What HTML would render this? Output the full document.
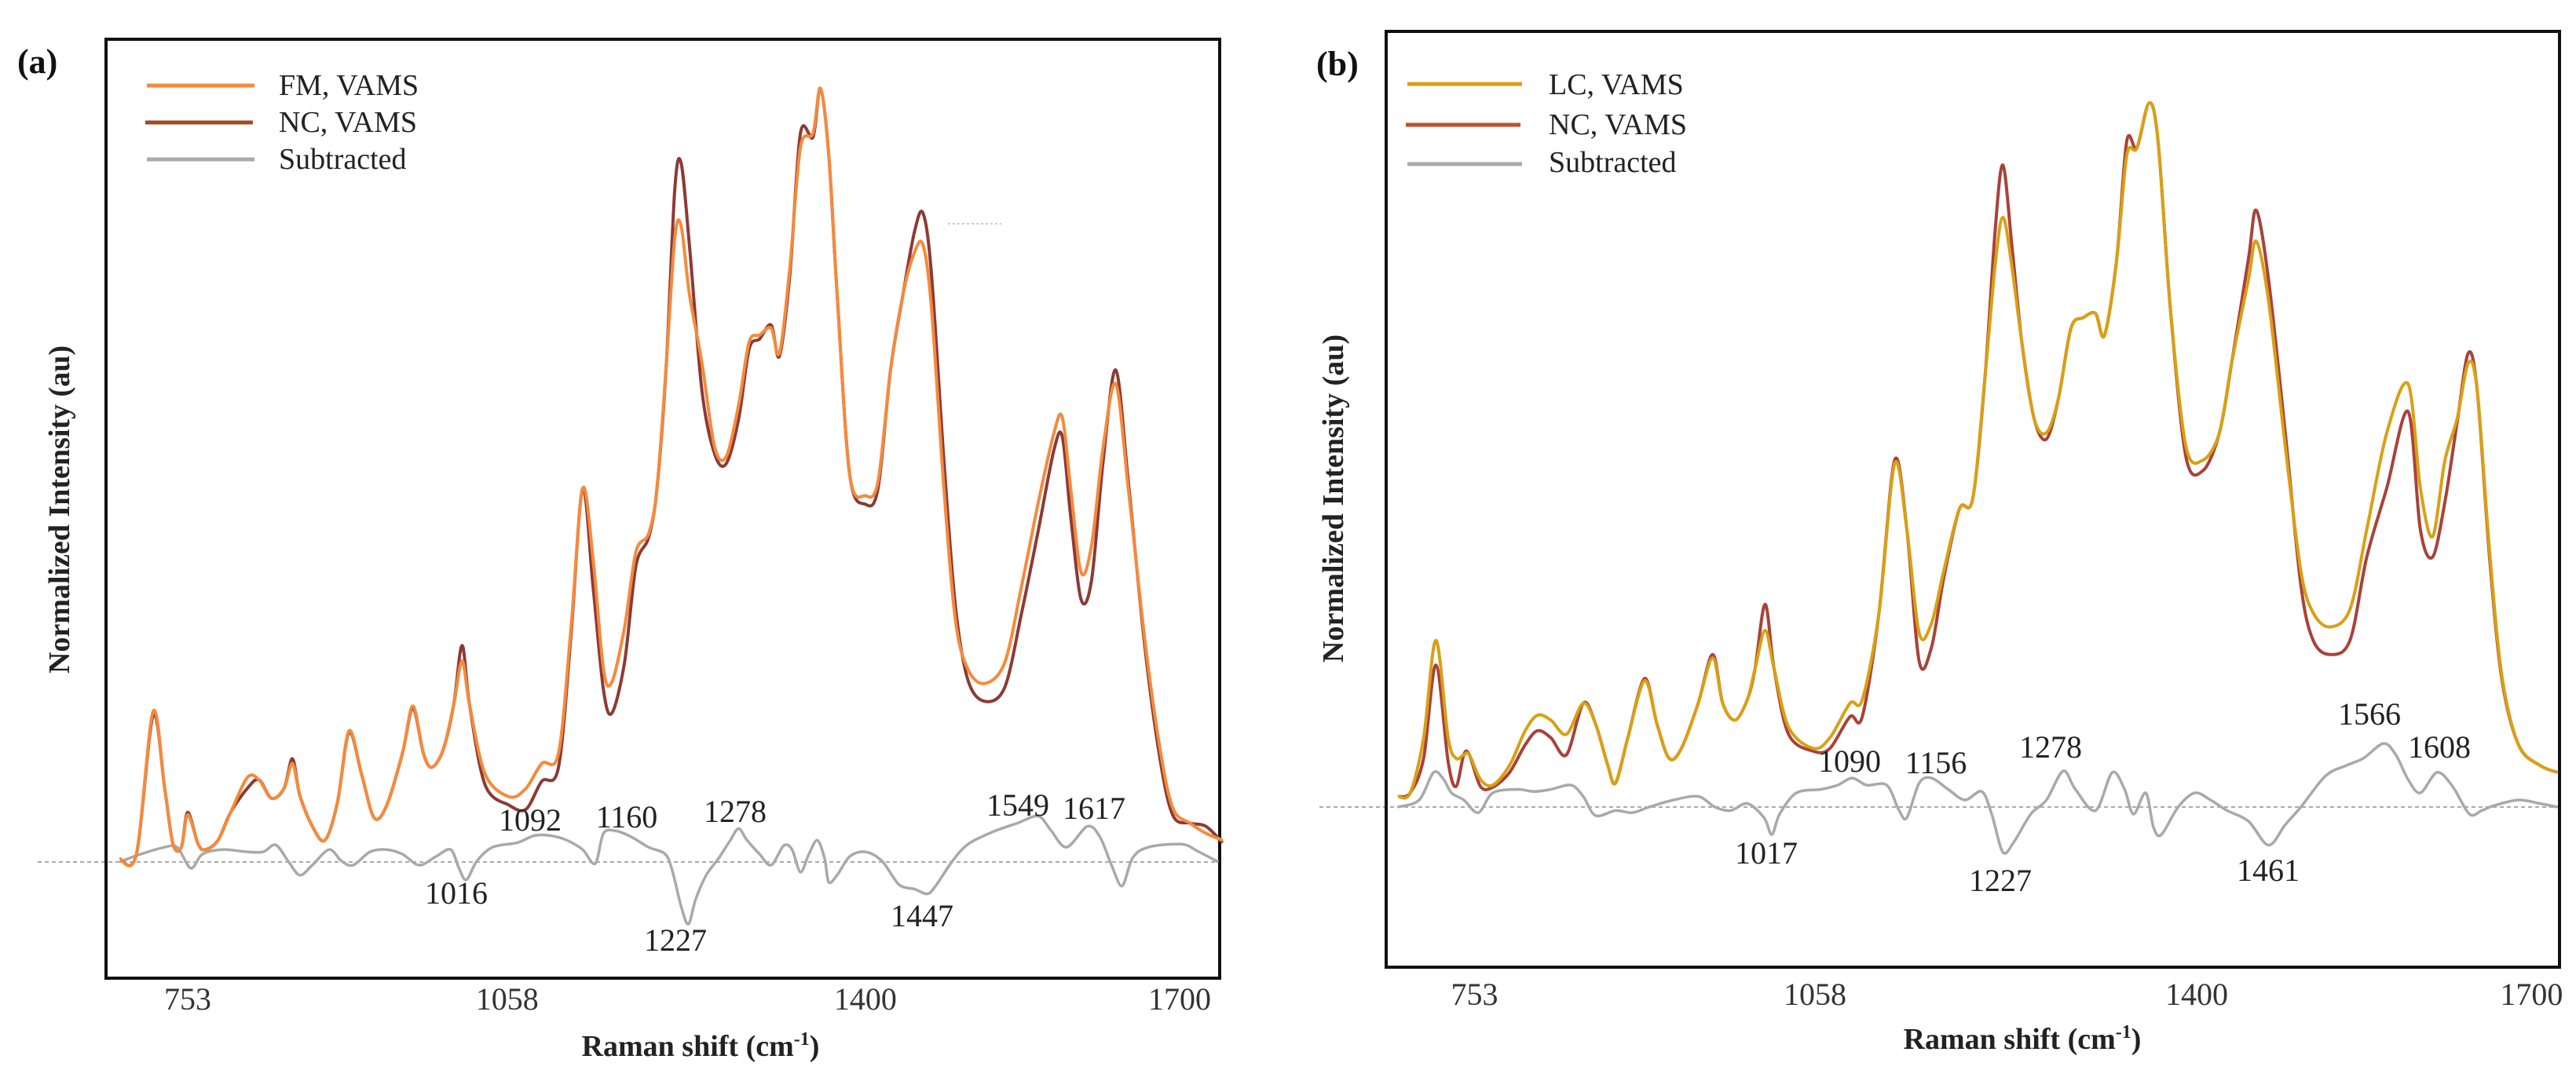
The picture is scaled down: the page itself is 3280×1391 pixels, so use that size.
<!DOCTYPE html>
<html><head><meta charset="utf-8"><style>
html,body{margin:0;padding:0;background:#fff;}
svg{display:block;font-family:"Liberation Serif",serif;}
</style></head><body>
<svg id="fig" width="3280" height="1391" viewBox="0 0 3280 1391" xmlns="http://www.w3.org/2000/svg">
<g id="pa">
 <text x="22" y="93" font-size="44" font-weight="bold" fill="#111">(a)</text>
 <line x1="48" y1="1098" x2="1553" y2="1098" stroke="#aaa" stroke-width="2" stroke-dasharray="5,4"/>
 <line x1="1207" y1="285" x2="1275" y2="285" stroke="#ccc" stroke-width="2" stroke-dasharray="3,3"/>
 <rect x="135" y="50" width="1418" height="1196" fill="none" stroke="#111" stroke-width="4"/>
 <line x1="187" y1="109" x2="324" y2="109" stroke="#f58a3c" stroke-width="5"/>
 <text x="355" y="121" font-size="38" fill="#222">FM, VAMS</text>
 <line x1="185" y1="156" x2="322" y2="156" stroke="#a5481f" stroke-width="5"/>
 <text x="355" y="168" font-size="38" fill="#222">NC, VAMS</text>
 <line x1="187" y1="203" x2="324" y2="203" stroke="#aaa" stroke-width="5"/>
 <text x="355" y="215" font-size="38" fill="#222">Subtracted</text>
 <text transform="translate(88,649) rotate(-90)" text-anchor="middle" font-size="38" font-weight="bold" fill="#222">Normalized Intensity (au)</text>
 <text x="892" y="1345" text-anchor="middle" font-size="38" font-weight="bold" fill="#222">Raman shift (cm<tspan font-size="24" dy="-14">-1</tspan><tspan dy="14">)</tspan></text>
</g>
<g id="pb">
 <text x="1676" y="96" font-size="44" font-weight="bold" fill="#111">(b)</text>
 <line x1="1680" y1="1028" x2="3259" y2="1028" stroke="#aaa" stroke-width="2" stroke-dasharray="5,4"/>
 <rect x="1765" y="40" width="1494" height="1192" fill="none" stroke="#111" stroke-width="4"/>
 <line x1="1792" y1="107" x2="1938" y2="107" stroke="#d9a014" stroke-width="5"/>
 <text x="1972" y="120" font-size="38" fill="#222">LC, VAMS</text>
 <line x1="1790" y1="159" x2="1936" y2="159" stroke="#c0502e" stroke-width="5"/>
 <text x="1972" y="171" font-size="38" fill="#222">NC, VAMS</text>
 <line x1="1792" y1="209" x2="1938" y2="209" stroke="#aaa" stroke-width="5"/>
 <text x="1972" y="219" font-size="38" fill="#222">Subtracted</text>
 <text transform="translate(1710,635) rotate(-90)" text-anchor="middle" font-size="38" font-weight="bold" fill="#222">Normalized Intensity (au)</text>
 <text x="2575" y="1336" text-anchor="middle" font-size="38" font-weight="bold" fill="#222">Raman shift (cm<tspan font-size="24" dy="-14">-1</tspan><tspan dy="14">)</tspan></text>
</g>
</svg>
<script>
const ticks = [753, 1058, 1400, 1700];

const aX = [694,710,726,737,745,753,759,769,776,788,800,816,827,839,851,859,866,878,890,902,913,925,937,949,964,974,984,992,1003,1013,1021,1028,1043,1066,1082,1097,1113,1125,1136,1146,1156,1164,1176,1187,1199,1207,1216,1224,1230,1238,1250,1262,1273,1285,1295,1305,1316,1324,1334,1344,1356,1363,1371,1379,1391,1406,1418,1430,1442,1453,1461,1469,1481,1492,1504,1520,1539,1555,1571,1586,1594,1602,1612,1622,1633,1645,1657,1673,1688,1700,1716,1731,1747];
const aFM = [0.4,1.0,19.4,9.5,2.3,1.9,6.1,2.3,1.6,2.8,6.4,10.9,10.6,8.2,9.5,12.7,8.6,4.6,2.8,7.7,16.9,11.3,5.7,7.3,14.0,20.1,14.0,12.2,14.5,20.3,25.9,20.3,11.3,8.4,9.5,12.7,14.0,30.2,48.1,39.1,24.8,23.2,30.2,40.0,42.3,48.1,64.3,80.4,82.0,73.2,64.3,53.5,52.2,58.9,67.0,67.9,68.8,65.6,76.8,92.1,93.9,99.7,91.2,73.2,49.9,47.2,49.0,63.4,73.2,78.6,79.5,71.5,48.1,31.1,24.8,23.0,25.7,35.5,46.3,55.3,57.3,48.1,37.3,40.9,53.5,61.6,48.1,28.4,14.0,6.8,5.0,3.7,2.8];
const aNC = [0.4,1.0,18.9,9.5,2.3,1.9,6.4,2.3,1.6,2.8,6.4,9.5,10.6,8.2,9.5,13.3,8.6,4.6,2.8,7.7,16.7,11.3,5.7,7.3,14.0,19.8,14.0,12.2,14.5,20.3,27.9,20.3,9.9,7.3,6.8,10.4,12.2,29.3,48.1,35.5,22.1,19.2,25.7,38.2,41.8,48.1,64.3,86.7,90.1,79.5,60.7,52.6,51.3,57.1,66.1,67.4,69.2,65.2,75.9,93.9,93.4,99.7,91.2,73.2,49.9,46.1,48.1,63.4,73.2,81.3,83.6,75.9,51.7,32.9,23.4,20.7,22.5,32.0,42.7,53.1,54.8,44.5,33.8,36.4,51.7,63.4,49.0,27.5,12.7,5.9,5.0,4.6,2.5];
const aSubX = [694,714,737,749,762,773,792,816,831,843,855,866,878,894,906,917,933,949,964,980,996,1010,1018,1025,1035,1050,1074,1090,1105,1121,1136,1148,1156,1168,1183,1199,1215,1222,1230,1237,1244,1254,1266,1277,1285,1293,1305,1316,1328,1336,1344,1352,1360,1367,1371,1379,1391,1406,1422,1438,1453,1465,1473,1489,1504,1528,1551,1571,1583,1598,1618,1630,1641,1651,1661,1676,1708,1723,1743];
const aSub = [0,1.0,1.9,1.9,-0.8,1.0,1.6,1.3,1.3,2.2,0.1,-1.7,-0.4,1.6,0.1,-0.4,1.3,1.6,1.0,-0.4,0.7,1.6,-0.8,-2.3,0.1,1.9,2.5,3.4,3.4,2.8,1.6,-0.2,3.7,4.0,3.2,1.9,1.0,-1.3,-5.7,-8.0,-4.8,-1.7,0.5,2.8,4.3,2.8,1.0,-0.4,2.1,1.6,-1.3,1.0,2.8,0.5,-2.6,-1.7,0.7,1.3,0.1,-2.9,-3.5,-4.1,-3.1,0.1,2.3,3.9,5.0,5.9,4.1,1.9,4.6,3.2,-0.4,-3.1,0.5,1.9,2.3,1.4,0];
const aPeakLabels = ["1092","1160","1278","1549","1617","1016","1227","1447"];

const bX = [690,701,713,724,735,742,749,754,764,775,790,804,815,827,841,856,867,878,885,896,911,922,933,944,959,972,981,992,1003,1010,1019,1027,1040,1062,1077,1095,1106,1121,1135,1146,1157,1168,1179,1193,1205,1216,1225,1232,1240,1249,1260,1271,1282,1293,1304,1315,1323,1334,1343,1352,1363,1371,1382,1396,1411,1426,1437,1452,1459,1470,1485,1499,1510,1525,1543,1558,1576,1595,1606,1617,1628,1639,1649,1657,1668,1679,1694,1713,1729];
const bLC = [1.5,2.0,9.8,23.6,9.8,6.9,7.4,7.4,3.9,3.1,5.9,10.8,13.0,12.3,10.3,14.7,11.8,5.9,3.4,9.8,17.9,11.8,6.9,8.3,14.7,21.1,14.7,12.3,15.2,19.6,25.0,19.6,11.3,8.3,9.8,14.7,15.2,27.5,48.6,39.3,24.6,26.0,33.4,42.2,43.7,60.9,76.6,83.5,76.6,65.8,55.0,53.0,58.0,67.8,69.3,69.9,66.8,77.6,92.3,93.3,99.7,94.3,70.7,51.1,49.1,53.0,62.9,74.7,80.1,71.7,51.1,33.4,27.5,25.5,28.0,39.3,53.0,59.9,45.2,38.3,49.1,55.0,62.9,58.9,36.3,18.7,8.8,5.9,4.9];
const bNC = [1.5,2.0,6.9,20.1,6.4,2.9,7.4,7.4,2.9,2.8,4.9,8.8,10.8,9.8,7.4,14.7,11.8,5.9,3.4,9.8,18.2,11.8,6.9,8.3,14.7,21.6,14.7,12.3,15.2,19.6,28.7,19.6,10.3,7.9,8.3,12.8,12.8,27.5,49.1,39.3,20.6,22.6,32.4,42.2,43.7,60.9,81.5,90.9,79.6,65.8,55.0,52.1,58.0,67.8,69.3,69.9,66.8,77.6,94.3,93.3,99.7,94.3,70.7,49.6,47.6,53.0,62.9,77.6,84.5,74.7,53.0,31.4,23.6,21.6,23.6,35.4,45.2,56.0,39.3,35.4,43.2,54.5,64.3,58.9,35.4,18.2,8.8,5.9,4.9];
const bSubX = [690,709,722,731,738,749,762,775,797,812,827,845,856,867,885,900,915,937,959,974,988,1003,1018,1025,1032,1047,1069,1084,1097,1110,1128,1139,1146,1157,1168,1183,1198,1213,1222,1232,1242,1257,1271,1286,1297,1315,1330,1341,1349,1360,1367,1374,1389,1404,1418,1433,1452,1470,1485,1499,1521,1540,1555,1573,1584,1595,1606,1621,1635,1650,1661,1672,1694,1713,1729];
const bSub = [0,1.0,4.9,3.9,2.0,1.0,-0.8,2.0,2.5,2.2,2.5,3.1,1.5,-1.2,-0.5,-0.8,0,1.0,1.5,0,-0.5,0.5,-1.5,-3.9,-1.0,2.0,2.5,3.1,4.1,3.1,3.1,-0.5,-1.5,3.4,4.1,2.5,1.0,2.2,-1.0,-6.4,-4.9,-1.0,1.0,5.1,2.5,-0.5,4.9,2.5,-1.0,2.0,-2.9,-3.9,0,2.0,1.0,-0.5,-2.0,-5.4,-2.5,0,4.4,5.9,6.9,9.0,7.4,3.9,2.0,4.9,2.9,-1.0,-0.5,0.2,1.0,0.5,0];
const bPeakLabels = ["1090","1156","1278","1566","1608","1017","1227","1461"];

const NS = "http://www.w3.org/2000/svg";
function makeAxis(x0px, slope, y0px, yPerUnit) {
  return { x: w => x0px + (w - 753) * slope, y: v => y0px - v * yPerUnit };
}
const axA = makeAxis(231, 1.3337, 1098, 9.885);
const axB = makeAxis(1869.5, 1.4212, 1028, 8.996);

function smoothPath(pts) {
  let d = "M" + pts[0][0].toFixed(1) + "," + pts[0][1].toFixed(1);
  for (let i = 0; i < pts.length - 1; i++) {
    const p0 = pts[Math.max(0, i - 1)], p1 = pts[i], p2 = pts[i + 1], p3 = pts[Math.min(pts.length - 1, i + 2)];
    const t = 0.16;
    const c1x = p1[0] + (p2[0] - p0[0]) * t, c1y = p1[1] + (p2[1] - p0[1]) * t;
    const c2x = p2[0] - (p3[0] - p1[0]) * t, c2y = p2[1] - (p3[1] - p1[1]) * t;
    d += " C" + c1x.toFixed(1) + "," + c1y.toFixed(1) + " " + c2x.toFixed(1) + "," + c2y.toFixed(1) + " " + p2[0].toFixed(1) + "," + p2[1].toFixed(1);
  }
  return d;
}
function drawLine(g, ax, xs, ys, color, width, name) {
  const p = document.createElementNS(NS, "path");
  p.setAttribute("d", smoothPath(xs.map((w, i) => [ax.x(w), ax.y(ys[i])])));
  p.setAttribute("fill", "none");
  p.setAttribute("stroke", color);
  p.setAttribute("stroke-width", width);
  p.setAttribute("stroke-linejoin", "round");
  
  
  g.appendChild(p);
}
function drawTicks(g, ax, y, prefix) {
  ticks.forEach(t => {
    const tx = document.createElementNS(NS, "text");
    tx.setAttribute("x", ax.x(t) + 8);
    tx.setAttribute("y", y);
    tx.setAttribute("text-anchor", "middle");
    tx.setAttribute("font-size", "40");
    tx.setAttribute("fill", "#333");
    
    
    tx.textContent = t;
    g.appendChild(tx);
  });
}
function drawLabels(g, labels, pos, prefix) {
  labels.forEach((s, i) => {
    const tx = document.createElementNS(NS, "text");
    tx.setAttribute("x", pos[i][0]);
    tx.setAttribute("y", pos[i][1] + 14);
    tx.setAttribute("text-anchor", "middle");
    tx.setAttribute("font-size", "40");
    tx.setAttribute("fill", "#222");
    
    
    tx.textContent = s;
    g.appendChild(tx);
  });
}
const gA = document.getElementById("pa");
const gB = document.getElementById("pb");
drawLine(gA, axA, aSubX, aSub, "#a9a9a9", 3.5, "subtracted-line-a");
drawLine(gA, axA, aX, aNC, "#8c3a35", 4, "nc-vams-line-a");
drawLine(gA, axA, aX, aFM, "#f58a3c", 4, "fm-vams-line");
drawTicks(gA, axA, 1286, "x-a");
drawLabels(gA, aPeakLabels, [[675,1044],[798,1040],[936,1033],[1296,1025],[1393,1029],[581,1137],[860,1197],[1174,1166]], "a");
drawLine(gB, axB, bSubX, bSub, "#a9a9a9", 3.5, "subtracted-line-b");
drawLine(gB, axB, bX, bNC, "#a8423a", 4, "nc-vams-line-b");
drawLine(gB, axB, bX, bLC, "#d9a014", 4, "lc-vams-line");
drawTicks(gB, axB, 1280, "x-b");
drawLabels(gB, bPeakLabels, [[2355,969],[2465,971],[2611,951],[3017,909],[3106,951],[2249,1086],[2547,1121],[2888,1108]], "b");
</script>
</body></html>
